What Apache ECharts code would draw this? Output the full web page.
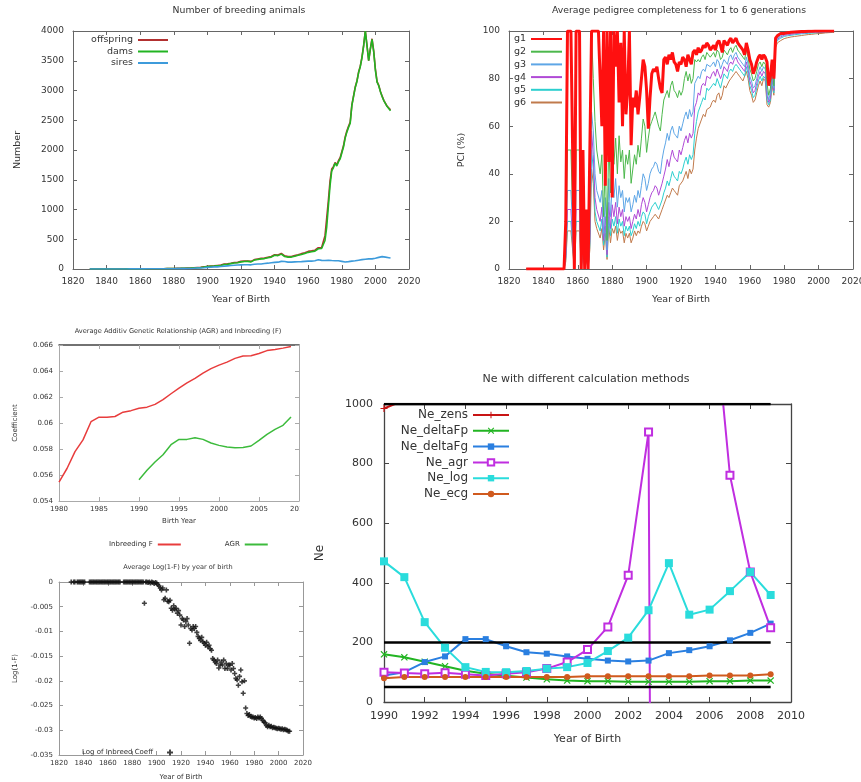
<!DOCTYPE html>
<html>
<head>
<meta charset="utf-8">
<title>Breeding population statistics</title>
<script src="https://cdn.jsdelivr.net/npm/echarts@6/dist/echarts.min.js"></script>
<style>
  body { margin: 0; background: #fff; }
  .panel { position: absolute; overflow: hidden; }
</style>
</head>
<body>
<div class="panel" id="p1" style="left:0;top:0;width:430px;height:310px"></div>
<div class="panel" id="p2" style="left:430px;top:0;width:431px;height:310px"></div>
<div class="panel" style="left:0;top:310px;width:300px;height:240px">
  <div id="p3" style="width:330px;height:240px"></div>
</div>
<div class="panel" id="p4" style="left:0;top:550px;width:320px;height:232px"></div>
<div class="panel" id="p5" style="left:300px;top:360px;width:561px;height:422px"></div>

<script>
const FONT = 'DejaVu Sans'
const TXT = '#333'

// ---------- number of breeding animals, one value per year from 1830 ----------
const breedStart = 1830
const offspring = [
  1, 1, 1, 1, 1, 1, 1, 1, 1, 1,
  1, 1, 1, 1, 1, 1, 1, 1, 1, 1,
  1, 1, 2, 2, 2, 3, 2, 3, 2, 2,
  3, 2, 2, 3, 3, 2, 3, 4, 4, 5,
  4, 5, 4, 6, 5, 5, 6, 6, 7, 7,
  8, 9, 10, 10, 11, 12, 12, 13, 14, 15,
  16, 17, 19, 21, 24, 27, 28, 32, 35, 38,
  44, 42, 48, 55, 52, 56, 60, 56, 66, 70,
  82, 78, 86, 92, 96, 102, 108, 118, 112, 122,
  128, 125, 132, 138, 135, 142, 128, 150, 158, 162,
  168, 172, 178, 168, 183, 188, 198, 203, 210, 214,
  240, 250, 235, 256, 262, 250, 220, 230, 210, 205,
  210, 220, 225, 236, 240, 252, 258, 268, 272, 284,
  296, 290, 305, 310, 316, 325, 358, 350, 362, 378,
  560, 850, 1150, 1480, 1680, 1720, 1790, 1750, 1820, 1870,
  1970, 2070, 2220, 2320, 2400, 2470, 2760, 2910, 3060, 3160,
  3310, 3410, 3560, 3760, 4000, 3760, 3500, 3700, 3870, 3660,
  3360, 3150, 3085, 2985, 2905, 2835, 2785, 2735, 2705, 2675
]
const dams = [
  1, 1, 1, 1, 1, 1, 1, 1, 1, 1,
  1, 1, 1, 1, 1, 1, 1, 1, 1, 1,
  1, 1, 2, 2, 2, 3, 2, 3, 2, 2,
  3, 2, 2, 3, 3, 2, 3, 4, 4, 5,
  4, 5, 4, 6, 5, 5, 6, 6, 7, 7,
  8, 8, 9, 10, 10, 11, 12, 12, 13, 14,
  15, 15, 18, 20, 22, 25, 25, 30, 32, 35,
  40, 38, 45, 50, 48, 52, 55, 50, 60, 65,
  75, 70, 80, 85, 90, 95, 100, 110, 105, 115,
  120, 118, 125, 130, 128, 135, 120, 140, 150, 155,
  160, 165, 170, 160, 175, 180, 190, 195, 200, 205,
  230, 240, 225, 245, 250, 240, 210, 220, 200, 195,
  200, 210, 215, 225, 230, 240, 245, 255, 260, 270,
  280, 275, 290, 295, 300, 310, 340, 335, 345, 360,
  480, 700, 1050, 1400, 1650, 1700, 1780, 1730, 1800, 1850,
  1950, 2050, 2200, 2300, 2380, 2450, 2750, 2900, 3050, 3150,
  3300, 3400, 3550, 3750, 4000, 3750, 3500, 3700, 3860, 3650,
  3340, 3140, 3080, 2980, 2900, 2830, 2780, 2730, 2700, 2660
]
const sires = [
  1, 1, 1, 1, 1, 1, 1, 1, 1, 1,
  1, 1, 1, 1, 1, 1, 1, 1, 1, 1,
  1, 1, 1, 2, 2, 2, 2, 2, 2, 2,
  2, 2, 2, 2, 3, 3, 3, 3, 3, 3,
  3, 3, 4, 4, 4, 4, 5, 5, 5, 5,
  5, 6, 6, 6, 7, 7, 7, 8, 8, 9,
  9, 10, 12, 14, 16, 15, 18, 20, 22, 25,
  28, 26, 30, 33, 35, 38, 36, 40, 42, 45,
  48, 50, 53, 55, 58, 60, 62, 64, 66, 68,
  70, 68, 72, 74, 72, 75, 70, 78, 80, 82,
  84, 86, 85, 88, 92, 95, 98, 100, 105, 108,
  112, 118, 115, 122, 128, 135, 125, 118, 115, 112,
  115, 118, 120, 122, 122, 125, 124, 126, 128, 130,
  132, 135, 133, 136, 140, 142, 155, 148, 145, 140,
  142, 145, 148, 145, 142, 140, 138, 140, 138, 135,
  128, 122, 118, 120, 124, 128, 132, 135, 138, 142,
  148, 152, 158, 162, 165, 168, 170, 172, 170, 175,
  180, 188, 195, 205, 208, 205, 200, 195, 190, 185
]

// ---------- pedigree completeness (%) for 1..6 generations, from 1830 ----------
const pciStart = 1830
const g1 = [
  0, 0, 0, 0, 0, 0, 0, 0, 0, 0,
  0, 0, 0, 0, 0, 0, 0, 0, 0, 0,
  0, 0, 0, 20, 100, 100, 100, 50, 0, 100,
  100, 100, 0, 50, 0, 25, 0, 50, 100, 100,
  100, 100, 100, 100, 60, 100, 35, 100, 45, 100,
  30, 100, 85, 100, 70, 95, 60, 100, 65, 75,
  100, 52, 72, 68, 75, 65, 72, 80, 88, 85,
  75, 59, 72, 82, 84, 83, 85, 80, 76, 74,
  88, 89, 86, 90, 88, 91, 87, 86, 83, 87,
  86, 89, 88, 85, 90, 88, 86, 91, 92, 90,
  93, 91, 92, 94, 93, 95, 94, 92, 93, 94,
  92, 95, 96, 94, 91, 96, 95, 94, 96, 97,
  95, 96, 97, 95, 94, 93, 92, 90, 95, 92,
  88, 86, 82, 84, 87, 89, 90, 88, 90, 89,
  87, 77, 81, 88, 80, 97, 98, 98.5, 99, 99,
  99, 99.2, 99.3, 99.4, 99.5, 99.5, 99.6, 99.6, 99.7, 99.7,
  99.8, 99.8, 99.8, 99.9, 99.9, 99.9, 99.9, 100, 100, 100,
  100, 100, 100, 100, 100, 100, 100, 100, 100, 100
]
const g2 = [
  0, 0, 0, 0, 0, 0, 0, 0, 0, 0,
  0, 0, 0, 0, 0, 0, 0, 0, 0, 0,
  0, 0, 0, 10, 50, 50, 50, 25, 0, 50,
  50, 50, 0, 25, 0, 12, 0, 25, 100, 80,
  62, 50, 50, 40, 48, 22, 45, 12, 55, 32,
  50, 44, 55, 40, 56, 45, 50, 38, 48, 44,
  50, 36, 42, 48, 44, 52, 47, 55, 63, 60,
  49, 55, 60, 62, 64, 66, 63, 60, 58, 65,
  71, 73, 75, 72, 77, 79, 75, 74, 72, 75,
  73, 75, 80, 83, 79, 82, 78, 80, 88, 87,
  88, 87, 89, 90, 88, 91, 90, 89, 90, 91,
  89, 92, 91, 88, 89, 92, 91, 90, 92, 93,
  91, 93, 94, 92, 91, 90, 89, 88, 92, 89,
  84, 82, 79, 80, 83, 86, 87, 85, 87, 86,
  78, 73, 76, 85, 77, 96, 97.5, 98, 98.5, 99,
  99, 99, 99.2, 99.3, 99.4, 99.4, 99.5, 99.5, 99.6, 99.6,
  99.7, 99.7, 99.7, 99.8, 99.8, 99.8, 99.8, 99.9, 99.9, 99.9,
  100, 100, 100, 100, 100, 100, 100, 100, 100, 100
]
const g3 = [
  0, 0, 0, 0, 0, 0, 0, 0, 0, 0,
  0, 0, 0, 0, 0, 0, 0, 0, 0, 0,
  0, 0, 0, 7, 33, 33, 33, 17, 0, 33,
  33, 33, 0, 17, 0, 8, 0, 17, 66, 58,
  40, 33, 33, 28, 33, 15, 30, 8, 38, 22,
  35, 30, 38, 26, 35, 30, 33, 24, 30, 28,
  30, 24, 27, 31, 28, 33, 30, 35, 40, 38,
  33, 36, 40, 42, 43, 45, 44, 41, 40, 46,
  50, 53, 57, 54, 58, 60, 57, 56, 55, 60,
  58, 61, 64, 66, 63, 67, 64, 66, 78, 78,
  81, 80, 83, 84, 83, 86, 86, 85, 86, 87,
  85, 88, 87, 84, 86, 88, 87, 86, 89, 90,
  88, 90, 91, 89, 88, 87, 86, 85, 89, 86,
  81, 79, 76, 77, 80, 83, 85, 83, 85, 84,
  75, 71, 74, 83, 76, 95.5, 97, 97.5, 98, 98.5,
  98.6, 98.7, 98.8, 98.9, 99, 99, 99.1, 99.1, 99.2, 99.2,
  99.3, 99.3, 99.4, 99.4, 99.5, 99.5, 99.5, 99.6, 99.6, 99.6,
  99.7, 99.7, 99.7, 99.8, 99.8, 99.8, 99.9, 99.9, 99.9, 99.9
]
const g4 = [
  0, 0, 0, 0, 0, 0, 0, 0, 0, 0,
  0, 0, 0, 0, 0, 0, 0, 0, 0, 0,
  0, 0, 0, 5, 25, 25, 25, 12, 0, 25,
  25, 25, 0, 12, 0, 6, 0, 12, 58, 48,
  30, 25, 25, 20, 26, 12, 22, 6, 28, 17,
  27, 22, 28, 19, 26, 22, 25, 18, 22, 20,
  22, 17, 20, 23, 21, 25, 22, 27, 30, 28,
  24, 27, 30, 32, 33, 35, 34, 31, 31, 36,
  39, 42, 46, 43, 47, 50, 47, 46, 45, 50,
  48, 51, 54, 56, 53, 57, 55, 57, 68, 70,
  74, 73, 77, 78, 77, 81, 81, 80, 82, 83,
  81, 84, 84, 80, 82, 85, 84, 83, 86, 87,
  86, 88, 89, 87, 86, 85, 84, 83, 87, 84,
  79, 77, 74, 75, 78, 81, 83, 81, 83, 82,
  73, 70, 72, 81, 75, 95, 96.5, 97, 97.5, 98,
  98.2, 98.3, 98.4, 98.5, 98.6, 98.7, 98.8, 98.9, 99, 99,
  99.1, 99.1, 99.2, 99.2, 99.3, 99.3, 99.4, 99.4, 99.5, 99.5,
  99.5, 99.6, 99.6, 99.6, 99.7, 99.7, 99.7, 99.8, 99.8, 99.8
]
const g5 = [
  0, 0, 0, 0, 0, 0, 0, 0, 0, 0,
  0, 0, 0, 0, 0, 0, 0, 0, 0, 0,
  0, 0, 0, 4, 20, 20, 20, 10, 0, 20,
  20, 20, 0, 10, 0, 5, 0, 10, 50, 42,
  24, 20, 20, 16, 21, 10, 18, 5, 22, 14,
  21, 18, 22, 15, 21, 18, 20, 14, 18, 16,
  18, 14, 16, 19, 17, 20, 18, 22, 24, 23,
  19, 22, 24, 26, 27, 28, 28, 25, 25, 29,
  32, 34, 37, 35, 38, 41, 39, 38, 37, 41,
  40, 42, 45, 47, 44, 48, 46, 48, 57, 62,
  66, 66, 70, 72, 71, 76, 75, 75, 77, 78,
  77, 80, 80, 76, 79, 82, 81, 80, 83, 84,
  83, 85, 86, 85, 84, 83, 82, 81, 85, 82,
  77, 75, 72, 73, 76, 79, 81, 79, 81, 80,
  71, 69, 71, 79, 74, 94.5, 96, 96.5, 97, 97.5,
  97.7, 97.9, 98, 98.1, 98.2, 98.3, 98.4, 98.5, 98.6, 98.7,
  98.8, 98.8, 98.9, 98.9, 99, 99, 99.1, 99.1, 99.2, 99.2,
  99.3, 99.3, 99.4, 99.4, 99.5, 99.5, 99.5, 99.6, 99.6, 99.6
]
const g6 = [
  0, 0, 0, 0, 0, 0, 0, 0, 0, 0,
  0, 0, 0, 0, 0, 0, 0, 0, 0, 0,
  0, 0, 0, 3, 16, 16, 16, 8, 0, 16,
  16, 16, 0, 8, 0, 4, 0, 8, 42, 36,
  20, 17, 17, 13, 17, 8, 15, 4, 18, 11,
  17, 15, 18, 12, 17, 15, 16, 11, 15, 13,
  15, 11, 13, 16, 14, 16, 15, 18, 20, 19,
  16, 18, 20, 21, 22, 23, 23, 21, 21, 25,
  27, 29, 31, 30, 32, 34, 33, 32, 31, 35,
  35, 37, 39, 41, 38, 42, 40, 42, 50, 55,
  59, 59, 63, 65, 64, 67, 67, 68, 70, 71,
  70, 73, 74, 71, 73, 77, 76, 76, 79, 80,
  80, 82, 83, 82, 81, 80, 79, 79, 83, 80,
  75, 73, 70, 71, 74, 77, 79, 77, 80, 79,
  69, 68, 70, 77, 73, 93, 95, 95.5, 96, 96.5,
  96.8, 97, 97.2, 97.4, 97.5, 97.6, 97.7, 97.8, 97.9, 98,
  98.1, 98.2, 98.3, 98.4, 98.5, 98.5, 98.6, 98.7, 98.8, 98.8,
  98.9, 99, 99, 99.1, 99.2, 99.2, 99.3, 99.3, 99.4, 99.4
]

// ---------- inbreeding F (from 1980) and AGR (from 1990) ----------
const inbreedStart = 1980
const inbreedingF = [
  0.05545, 0.0565, 0.0578, 0.0587, 0.0601, 0.06045, 0.06045, 0.0605, 0.06083, 0.06095,
  0.06113, 0.06122, 0.06143, 0.0618, 0.06225, 0.06268, 0.06308, 0.06343, 0.06383, 0.06418,
  0.06445, 0.06468, 0.06497, 0.06515, 0.06517, 0.06535, 0.06557, 0.06566, 0.06576, 0.06588
]
const agrStart = 1990
const agr = [
  0.05564, 0.05636, 0.057, 0.05756, 0.05833, 0.05874, 0.05874, 0.05887, 0.05874, 0.05846,
  0.05828, 0.05815, 0.0581, 0.05812, 0.05823, 0.05867, 0.05913, 0.05951, 0.05982, 0.06046
]

// ---------- average log(1-F), from 1830 (null = no animals that year) ----------
const logStart = 1830
const logF = [
  0, null, 0, 0, null, 0, 0, 0, 0, 0,
  0, 0, null, null, null, 0, 0, 0, 0, 0,
  0, 0, 0, 0, 0, 0, 0, 0, 0, 0,
  0, 0, 0, 0, 0, 0, 0, 0, 0, 0,
  0, null, null, 0, 0, 0, 0, 0, 0, 0,
  0, 0, 0, 0, 0, 0, 0, 0, 0, 0,
  -0.0043, 0, 0, -0.0001, 0, -0.0002, 0, -0.0001, -0.0003, -0.0001,
  -0.0002, -0.0005, -0.0008, -0.0012, -0.0016, -0.0012, -0.0036, -0.0033, -0.0016, -0.0039,
  -0.004, -0.0037, -0.0053, -0.0057, -0.0048, -0.0055, -0.0053, -0.0063, -0.0058, -0.0067,
  -0.0087, -0.0074, -0.0077, -0.009, -0.008, -0.0074, -0.0087, -0.0124, -0.0094, -0.0097,
  -0.009, -0.0094, -0.009, -0.0102, -0.011, -0.0114, -0.0118, -0.0112, -0.0121, -0.0124,
  -0.0128, -0.0122, -0.0131, -0.0128, -0.0135, -0.0138, -0.0155, -0.0158, -0.0162, -0.0165,
  -0.0158, -0.0174, -0.0168, -0.0162, -0.0168, -0.0158, -0.0175, -0.0165, -0.0175, -0.0168,
  -0.0168, -0.0178, -0.0165, -0.0175, -0.0185, -0.0195, -0.0198, -0.0209, -0.0191, -0.0178,
  -0.0202, -0.0225, -0.02, -0.0255, -0.0266, -0.027, -0.0268, -0.0272, -0.0273, -0.0273,
  -0.0275, -0.0274, -0.0276, -0.0273, -0.0275, -0.0273, -0.0276, -0.028, -0.0283, -0.0285,
  -0.029, -0.0293, -0.029, -0.0293, -0.0292, -0.0295, -0.0294, -0.0295, -0.0296, -0.0297,
  -0.0296, -0.0297, -0.0298, -0.0297, -0.0299, -0.0298, -0.0299, -0.03, -0.0302, -0.0302
]

// ---------- Ne by method, 1990-2009 ----------
const neStart = 1990
const neZens = [985, 1013, 1074, 1128, 1190, 1236, 1281, 1347, 1402, 1455, 1490, 1538, 1575, 1622, 1660, 1693, 1742, 1780, 1815, 1850]
const neDeltaFp = [160, 150, 135, 120, 105, 95, 88, 82, 76, 72, 70, 70, 68, 68, 68, 68, 70, 70, 72, 72]
const neDeltaFg = [89, 100, 134, 153, 211, 211, 187, 167, 162, 153, 145, 139, 136, 139, 164, 174, 187, 207, 232, 263]
const neAgr = [100, 97, 95, 98, 93, 89, 95, 100, 112, 134, 176, 252, 425, 906, -13000, null, 1480, 761, 436, 249]
const neLog = [472, 419, 268, 182, 117, 101, 100, 104, 112, 117, 131, 171, 216, 308, 466, 293, 310, 372, 436, 359]
const neEcg = [80, 84, 84, 84, 84, 84, 84, 84, 84, 84, 86, 86, 86, 86, 86, 86, 89, 89, 89, 93]
const neRefLevels = [1000, 200, 50]
const neRefFrom = 1990
const neRefTo = 2009

// year/value pairs for value x-axes
function pairs(start, vals) {
  return vals.map((v, i) => [start + i, v])
}

// plain tick labels, no thousands separator
function plainNum(v) {
  return String(Number(v.toFixed(6)))
}

// main axis plus a mirrored one (gnuplot style border with ticks on all sides)
function axisPair(dir, o) {
  const lineColor = o.line || '#666'
  const base = {
    type: 'value',
    min: o.min,
    max: o.max,
    interval: o.step,
    splitLine: { show: false },
    axisLine: { onZero: false, lineStyle: { color: lineColor, width: o.lineWidth || 1 } },
    axisTick: { inside: true, length: o.tick || 4, lineStyle: { color: lineColor } }
  }
  const main = Object.assign({}, base, {
    name: o.name,
    nameLocation: 'middle',
    nameGap: o.nameGap,
    nameTextStyle: { fontFamily: FONT, fontSize: o.nameSize || o.font, color: TXT },
    axisLabel: { fontFamily: FONT, fontSize: o.font, color: TXT, margin: o.margin, formatter: plainNum }
  })
  const mirror = Object.assign({}, base, {
    position: dir === 'x' ? 'top' : 'right',
    axisLabel: { show: false }
  })
  if (o.mirrorLine) {
    mirror.axisLine = { onZero: false, lineStyle: o.mirrorLine }
  }
  return [main, mirror]
}

function titleText(x, y, text, size) {
  return {
    type: 'text', x: x, y: y, silent: true,
    style: { text: text, fill: TXT, font: size + 'px ' + FONT, align: 'center', verticalAlign: 'middle' }
  }
}

function plainLine(name, data, color, width) {
  return {
    name: name, type: 'line', data: data, symbol: 'circle', showSymbol: false,
    lineStyle: { color: color, width: width }, itemStyle: { color: color },
    animation: false
  }
}

// ---------- panel 1 ----------
const c1 = echarts.init(document.getElementById('p1'))
c1.setOption({
  animation: false,
  graphic: [titleText(239, 11, 'Number of breeding animals', 9.3)],
  grid: { left: 73, top: 31, width: 336, height: 238, outerBoundsMode: 'none' },
  xAxis: axisPair('x', { min: 1820, max: 2020, step: 20, font: 9, margin: 8, name: 'Year of Birth', nameGap: 26, nameSize: 9.5 }),
  yAxis: axisPair('y', { min: 0, max: 4000, step: 500, font: 9, margin: 9, name: 'Number', nameGap: 50, nameSize: 9.5 }),
  legend: {
    orient: 'vertical', align: 'right', right: 256, top: 30,
    itemWidth: 30, itemHeight: 10, itemGap: 1.5,
    textStyle: { fontFamily: FONT, fontSize: 9.5, color: TXT },
    itemStyle: { opacity: 0 },
    data: ['offspring', 'dams', 'sires']
  },
  series: [
    plainLine('offspring', pairs(breedStart, offspring), '#b23030', 1.6),
    plainLine('dams', pairs(breedStart, dams), '#22b422', 1.6),
    plainLine('sires', pairs(breedStart, sires), '#3d9bdb', 1.6)
  ]
})

// ---------- panel 2 ----------
const c2 = echarts.init(document.getElementById('p2'))
c2.setOption({
  animation: false,
  graphic: [titleText(249, 11, 'Average pedigree completeness for 1 to 6 generations', 9.3)],
  grid: { left: 79, top: 31, width: 344, height: 238, outerBoundsMode: 'none' },
  xAxis: axisPair('x', { min: 1820, max: 2020, step: 20, font: 9, margin: 8, name: 'Year of Birth', nameGap: 26, nameSize: 9.5 }),
  yAxis: axisPair('y', { min: 0, max: 100, step: 20, font: 9, margin: 9, name: 'PCI (%)', nameGap: 42, nameSize: 9.5 }),
  legend: {
    orient: 'vertical', align: 'right', right: 293, top: 29,
    itemWidth: 31, itemHeight: 10, itemGap: 2.7,
    textStyle: { fontFamily: FONT, fontSize: 9.5, color: TXT },
    itemStyle: { opacity: 0 },
    data: ['g1', 'g2', 'g3', 'g4', 'g5', 'g6']
  },
  series: [
    plainLine('g6', pairs(pciStart, g6), '#c07a4c', 1),
    plainLine('g5', pairs(pciStart, g5), '#2ccfcf', 1),
    plainLine('g4', pairs(pciStart, g4), '#b04ad6', 1),
    plainLine('g3', pairs(pciStart, g3), '#5ea6e6', 1),
    plainLine('g2', pairs(pciStart, g2), '#4cb84c', 1),
    plainLine('g1', pairs(pciStart, g1), '#ff1010', 3)
  ]
})

// ---------- panel 3 ----------
const c3 = echarts.init(document.getElementById('p3'))
c3.setOption({
  animation: false,
  graphic: [titleText(178, 21, 'Average Additiv Genetic Relationship (AGR) and Inbreeding (F)', 6.6)],
  grid: { left: 59, top: 35, width: 240, height: 156, outerBoundsMode: 'none' },
  xAxis: axisPair('x', {
    min: 1980, max: 2010, step: 5, font: 7, margin: 5, name: 'Birth Year', nameGap: 17, nameSize: 7,
    line: '#aaa', mirrorLine: { color: '#444', width: 1.5 }
  }),
  yAxis: axisPair('y', { min: 0.054, max: 0.066, step: 0.002, font: 7, margin: 6, name: 'Coefficient', nameGap: 40, nameSize: 7, line: '#aaa' }),
  legend: {
    orient: 'horizontal', align: 'right', left: 104, top: 226,
    itemWidth: 23, itemHeight: 8, itemGap: 43,
    textStyle: { fontFamily: FONT, fontSize: 7, color: TXT },
    itemStyle: { opacity: 0 },
    data: ['Inbreeding F', 'AGR']
  },
  series: [
    plainLine('Inbreeding F', pairs(inbreedStart, inbreedingF), '#e83c3c', 1.5),
    plainLine('AGR', pairs(agrStart, agr), '#3cbb3c', 1.5)
  ]
})

// ---------- panel 4 ----------
const plusBold = 'path://M3.4,0H6.6V3.4H10V6.6H6.6V10H3.4V6.6H0V3.4H3.4Z'
const c4 = echarts.init(document.getElementById('p4'))
c4.setOption({
  animation: false,
  graphic: [titleText(178, 17, 'Average Log(1-F) by year of birth', 6.6)],
  grid: { left: 59, top: 32, width: 244, height: 173, outerBoundsMode: 'none' },
  xAxis: axisPair('x', { min: 1820, max: 2020, step: 20, font: 7, margin: 5, name: 'Year of Birth', nameGap: 19, nameSize: 7, line: '#999' }),
  yAxis: axisPair('y', { min: -0.035, max: 0, step: 0.005, font: 7, margin: 6, name: 'Log(1-F)', nameGap: 40, nameSize: 7, line: '#999' }),
  legend: {
    orient: 'vertical', align: 'right', right: 142, top: 194,
    itemWidth: 6, itemHeight: 6,
    textStyle: { fontFamily: FONT, fontSize: 7, color: TXT, padding: [0, 9, 0, 0] },
    data: ['Log of Inbreed Coeff']
  },
  series: [{
    name: 'Log of Inbreed Coeff',
    type: 'scatter',
    data: pairs(logStart, logF).filter(p => p[1] !== null),
    symbol: plusBold,
    symbolSize: 5,
    itemStyle: { color: '#111' }
  }]
})

// ---------- panel 5 ----------
const plusThin = 'path://M0,4.2H10V5.8H0Z M4.2,0H5.8V10H4.2Z'
const crossThin = 'path://M0,1.2L1.2,0L5,3.8L8.8,0L10,1.2L6.2,5L10,8.8L8.8,10L5,6.2L1.2,10L0,8.8L3.8,5Z'

function neLine(name, vals, color, symbol, size) {
  return {
    name: name, type: 'line', data: pairs(neStart, vals),
    symbol: symbol, symbolSize: size, showSymbol: true, connectNulls: false,
    lineStyle: { color: color, width: 2 },
    itemStyle: { color: color, borderColor: color, borderWidth: symbol === 'emptyRect' ? 1.5 : 0 },
    clip: true
  }
}

const refSeries = neRefLevels.map(level => ({
  name: 'ref' + level,
  type: 'line',
  data: [[neRefFrom, level], [neRefTo, level]],
  symbol: 'none',
  lineStyle: { color: '#000', width: 2.5 },
  silent: true,
  z: 3
}))

const c5 = echarts.init(document.getElementById('p5'))
c5.setOption({
  animation: false,
  graphic: [titleText(286, 19, 'Ne with different calculation methods', 11)],
  grid: { left: 84, top: 44, width: 407, height: 298, outerBoundsMode: 'none' },
  xAxis: axisPair('x', { min: 1990, max: 2010, step: 2, font: 11, margin: 9, name: 'Year of Birth', nameGap: 32, nameSize: 11, line: '#444', lineWidth: 1.3, tick: 5 }),
  yAxis: axisPair('y', { min: 0, max: 1000, step: 200, font: 11, margin: 11, name: 'Ne', nameGap: 58, nameSize: 12, line: '#444', lineWidth: 1.3, tick: 5 }),
  legend: {
    orient: 'vertical', align: 'right', right: 346, top: 44,
    itemWidth: 36, itemHeight: 8, itemGap: 3.8,
    textStyle: { fontFamily: FONT, fontSize: 12, color: TXT },
    data: ['Ne_zens', 'Ne_deltaFp', 'Ne_deltaFg', 'Ne_agr', 'Ne_log', 'Ne_ecg']
  },
  series: [
    neLine('Ne_zens', neZens, '#c81414', plusThin, 7),
    neLine('Ne_deltaFp', neDeltaFp, '#22b422', crossThin, 7),
    neLine('Ne_deltaFg', neDeltaFg, '#2a7fe0', 'rect', 6),
    neLine('Ne_agr', neAgr, '#c02ee0', 'emptyRect', 7),
    neLine('Ne_log', neLog, '#2adcdc', 'rect', 8),
    neLine('Ne_ecg', neEcg, '#d05a1e', 'circle', 6)
  ].concat(refSeries)
})
</script>
</body>
</html>
